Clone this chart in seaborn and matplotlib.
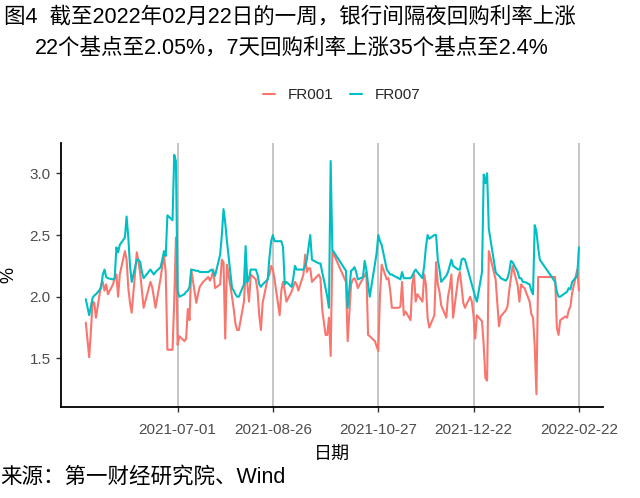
import pandas as pd
import matplotlib
matplotlib.use("Agg")
import matplotlib.pyplot as plt
import matplotlib.dates as mdates
import seaborn as sns

# ---------------- data ----------------
start_date = "2021-05-08"
end_date = "2022-02-22"
holidays = ["2021-06-14", "2021-09-20", "2021-09-21", "2021-10-01", "2021-10-04",
            "2021-10-05", "2021-10-06", "2021-10-07", "2022-01-03", "2022-01-31",
            "2022-02-01", "2022-02-02", "2022-02-03", "2022-02-04"]
weekend_workdays = ["2021-05-08", "2021-09-18", "2021-09-26", "2021-10-09",
                    "2022-01-29", "2022-01-30"]

fr001_may = [1.79, 1.51, 1.72, 1.96, 1.95, 1.83, 2.10, 2.12, 2.05, 2.10, 2.02, 2.10, 2.15, 2.18, 2.00, 2.18, 2.37]
fr001_jun = [2.30, 2.07, 1.95, 1.87, 2.36, 2.28, 2.19, 2.05, 1.91, 2.12, 2.08, 2.00, 1.91, 2.15, 2.25, 2.33, 2.20, 1.57, 1.57, 1.96, 2.48]
fr001_jul = [1.61, 1.68, 1.64, 1.66, 1.90, 1.81, 2.22, 1.95, 2.02, 2.08, 2.10, 2.12, 2.16, 2.13, 2.16, 2.22, 2.07, 2.10, 2.30, 2.28, 1.66, 2.26]
fr001_aug = [2.00, 1.90, 1.78, 1.73, 1.73, 1.96, 2.21, 2.10, 1.96, 2.18, 2.14, 2.05, 1.85, 1.73, 1.95, 2.15, 2.18, 2.25, 2.22, 2.14, 1.85, 2.05]
fr001_sep = [2.12, 2.05, 1.96, 2.04, 2.08, 2.12, 2.10, 2.05, 2.18, 2.34, 2.20, 2.23, 2.23, 2.12, 2.18, 2.15, 1.90, 1.69, 1.69, 1.83, 1.52, 2.37]
fr001_oct = [2.12, 1.64, 2.10, 2.14, 2.15, 2.12, 2.07, 2.15, 2.17, 2.20, 1.69, 1.68, 1.64, 1.60, 1.56, 2.01, 2.26]
fr001_nov = [2.14, 2.15, 2.05, 1.91, 1.91, 1.91, 1.92, 2.12, 1.85, 1.88, 1.81, 2.10, 2.18, 1.96, 2.02, 1.96, 2.18, 2.10, 1.83, 1.75, 1.85, 2.28]
fr001_dec = [2.10, 2.04, 1.93, 1.83, 2.00, 2.07, 2.18, 1.83, 2.15, 2.20, 2.08, 1.95, 1.91, 2.00, 1.96, 1.85, 1.66, 1.85, 1.80, 1.61, 1.34, 1.32, 2.37]
fr001_jan = [2.14, 1.95, 1.76, 1.84, 1.89, 1.92, 2.05, 2.15, 2.25, 2.09, 1.96, 2.10, 2.08, 2.07, 1.96, 1.86, 1.83, 1.60, 1.21, 2.16, 2.16]
fr001_feb = [2.16, 2.16, 1.75, 1.69, 1.81, 1.84, 1.83, 1.89, 1.92, 2.03, 2.22, 2.05]

fr007_may = [1.98, 1.85, 1.92, 1.99, 2.01, 2.02, 2.07, 2.18, 2.22, 2.16, 2.15, 2.14, 2.15, 2.40, 2.36, 2.42, 2.48]
fr007_jun = [2.65, 2.48, 2.25, 2.12, 2.30, 2.30, 2.28, 2.20, 2.15, 2.22, 2.20, 2.18, 2.20, 2.24, 2.30, 2.37, 2.33, 2.66, 2.62, 3.15, 3.10]
fr007_jul = [2.05, 2.00, 2.02, 2.04, 2.05, 2.08, 2.22, 2.21, 2.21, 2.20, 2.20, 2.20, 2.20, 2.21, 2.22, 2.20, 2.17, 2.34, 2.50, 2.71, 2.60, 2.45]
fr007_aug = [2.07, 2.05, 2.02, 2.00, 2.00, 2.10, 2.41, 2.12, 2.15, 2.22, 2.22, 2.18, 2.10, 2.08, 2.10, 2.14, 2.32, 2.45, 2.50, 2.45, 2.45, 2.45]
fr007_sep = [2.40, 2.10, 2.12, 2.08, 2.15, 2.25, 2.22, 2.22, 2.22, 2.25, 2.30, 2.40, 2.50, 2.30, 2.27, 2.27, 2.20, 2.07, 2.00, 1.91, 3.10, 2.38]
fr007_oct = [2.21, 1.91, 2.21, 2.22, 2.24, 2.20, 2.14, 2.16, 2.29, 2.22, 2.10, 2.00, 2.26, 2.35, 2.50, 2.45, 2.42]
fr007_nov = [2.22, 2.20, 2.18, 2.18, 2.17, 2.15, 2.14, 2.20, 2.15, 2.15, 2.15, 2.17, 2.20, 2.22, 2.20, 2.15, 2.25, 2.40, 2.50, 2.47, 2.50, 2.50]
fr007_dec = [2.30, 2.22, 2.12, 2.17, 2.20, 2.25, 2.30, 2.25, 2.22, 2.22, 2.30, 2.31, 2.30, 2.15, 2.10, 2.05, 2.00, 1.96, 2.20, 2.99, 2.92, 3.00, 2.55]
fr007_jan = [2.20, 2.18, 2.17, 2.15, 2.13, 2.15, 2.20, 2.29, 2.28, 2.20, 2.15, 2.15, 2.12, 2.12, 2.10, 2.05, 2.02, 2.58, 2.53, 2.40, 2.30]
fr007_feb = [2.14, 2.12, 2.04, 2.00, 2.00, 2.03, 2.04, 2.07, 2.06, 2.12, 2.17, 2.40]

series_names = ["FR001", "FR007"]
tick_dates = ["2021-07-01", "2021-08-26", "2021-10-27", "2021-12-22", "2022-02-22"]
y_ticks = [1.5, 2.0, 2.5, 3.0]

title_1 = "图4  截至2022年02月22日的一周，银行间隔夜回购利率上涨"
title_2 = "22个基点至2.05%，7天回购利率上涨35个基点至2.4%"
source_text = "来源：第一财经研究院、Wind"

# ---------------- build table ----------------
days = []
for d in pd.date_range(start_date, end_date):
    s = d.strftime("%Y-%m-%d")
    if (d.weekday() < 5 and s not in holidays) or s in weekend_workdays:
        days.append(d)

fr001 = (fr001_may + fr001_jun + fr001_jul + fr001_aug + fr001_sep + fr001_oct
         + fr001_nov + fr001_dec + fr001_jan + fr001_feb)
fr007 = (fr007_may + fr007_jun + fr007_jul + fr007_aug + fr007_sep + fr007_oct
         + fr007_nov + fr007_dec + fr007_jan + fr007_feb)
assert len(days) == len(fr001) == len(fr007), (len(days), len(fr001), len(fr007))

df = pd.concat([
    pd.DataFrame({"date": days, "value": fr001, "series": series_names[0]}),
    pd.DataFrame({"date": days, "value": fr007, "series": series_names[1]}),
])

# ---------------- plot ----------------
sns.set_style("white")
plt.rcParams["font.family"] = ["Liberation Sans", "Noto Sans CJK SC", "DejaVu Sans"]

fig = plt.figure(figsize=(6.4, 4.98), dpi=100)
ax = fig.add_axes([0.0953, 0.1827, 0.8467, 0.5302])

palette = {"FR001": "#F8766D", "FR007": "#00BFC4"}
sns.lineplot(data=df, x="date", y="value", hue="series", palette=palette,
             linewidth=1.5, ax=ax, legend=True)

ax.set_xlim(pd.Timestamp("2021-04-23 10:00"), pd.Timestamp("2022-03-08 02:00"))
ax.set_ylim(1.106, 3.246)

ax.set_xticks(pd.to_datetime(tick_dates))
ax.xaxis.set_major_formatter(mdates.DateFormatter("%Y-%m-%d"))
ax.set_yticks(y_ticks)
ax.set_yticklabels([f"{v:.1f}" for v in y_ticks])

ax.grid(False)
ax.xaxis.grid(True, color="#b5b5b5", linewidth=1.1)
ax.set_axisbelow(True)

for side in ["top", "right"]:
    ax.spines[side].set_visible(False)
for side in ["left", "bottom"]:
    ax.spines[side].set_color("black")
    ax.spines[side].set_linewidth(1.3)

ax.tick_params(axis="both", which="major", length=3.5, width=1.0, color="#333333",
               labelcolor="#4D4D4D", labelsize=11, direction="out")
ax.tick_params(axis="x", bottom=True, pad=8)
ax.tick_params(axis="y", left=True, pad=4)

ax.set_xlabel("日期", fontsize=13, color="black", labelpad=7)
ax.set_ylabel("%", fontsize=13, color="black", labelpad=9)

handles, labels = ax.get_legend_handles_labels()
ax.get_legend().remove()
leg = fig.legend(handles, labels, loc="center", bbox_to_anchor=(0.534, 0.809),
                 ncol=2, frameon=False, fontsize=11, handlelength=0.8,
                 handletextpad=0.8, columnspacing=1.1)
for line in leg.get_lines():
    line.set_linewidth(1.5)

fig.text(0.006, 1 - 17 / 498, title_1, fontsize=15.5, ha="left", va="center", color="black")
fig.text(0.055, 1 - 48 / 498, title_2, fontsize=15.5, ha="left", va="center", color="black")
fig.text(0.0, 1 - 477 / 498, source_text, fontsize=15.5, ha="left", va="center", color="black")

fig.savefig("out.png", dpi=100)
